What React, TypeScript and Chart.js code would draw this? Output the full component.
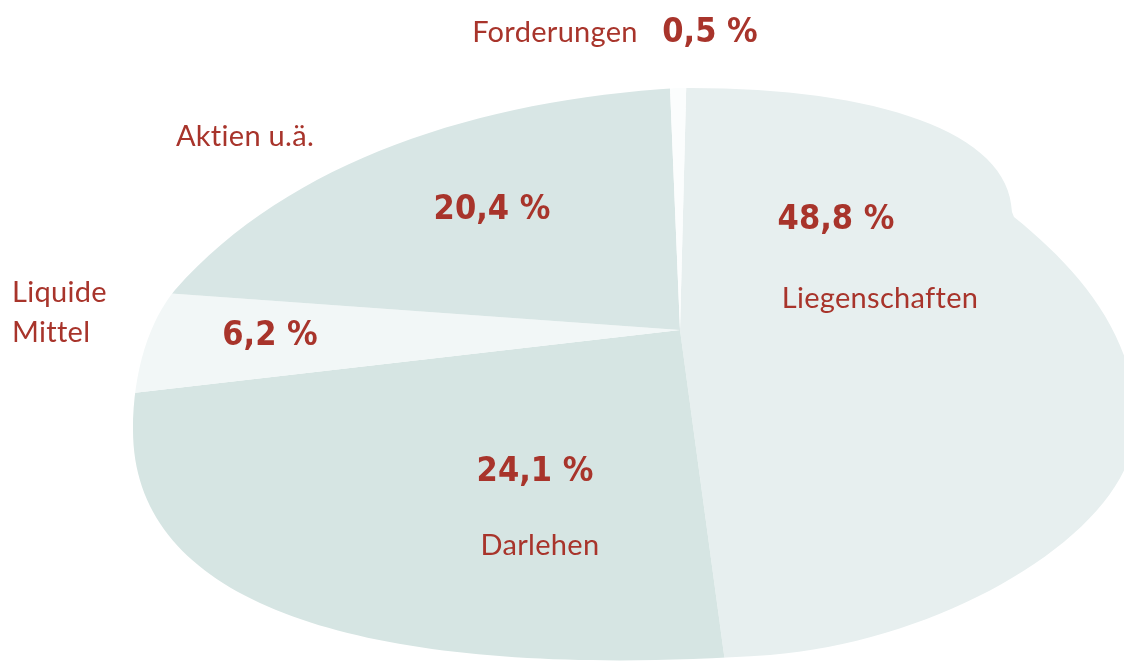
import React, { useEffect, useRef } from "react";
import { Chart, registerables } from "chart.js";

Chart.register(...registerables);

// ---- data ----
const CATEGORIES = ["Liegenschaften", "Darlehen", "Liquide Mittel", "Aktien u.ä.", "Forderungen"];
const SHARES = [48.8, 24.1, 6.2, 20.4, 0.5];
const NAME_LINES = [["Liegenschaften"], ["Darlehen"], ["Liquide", "Mittel"], ["Aktien u.ä."], ["Forderungen"]];

// ---- styling / layout ----
const SLICE_COLORS = ["#e7efef", "#d6e5e3", "#f2f7f7", "#d8e6e5", "#fbfdfd"];
const TEXT_COLOR = "#a8342b";
const NAME_FONT = '29px Lato, "Open Sans", sans-serif';
const VALUE_FONT = 'bold 34px "DejaVu Sans Condensed", "DejaVu Sans", sans-serif';
const VALUE_POS = [
  [836, 220],
  [535, 472],
  [270, 336],
  [492, 210],
  [710, 33],
];
const NAME_POS = [
  { x: 880, y: 299, align: "center" },
  { x: 540, y: 546, align: "center" },
  { x: 12, y: 293, align: "left" },
  { x: 245, y: 137, align: "center" },
  { x: 555, y: 33, align: "center" },
];
const VERTEX = { x: 680, y: 330 };
const SX = 1500;
const SY = 705;
const SHEAR_Y = -0.065;
const SHEAR_X = 0.03;
const ROTATION = 1.5;

function outline(ctx: CanvasRenderingContext2D) {
  ctx.beginPath();
  ctx.moveTo(678, 88);
  ctx.bezierCurveTo(870, 86, 1010, 130, 1012, 212);
  ctx.lineTo(1014, 217);
  ctx.bezierCurveTo(1080, 270, 1140, 340, 1135, 430);
  ctx.bezierCurveTo(1130, 530, 950, 640, 770, 655);
  ctx.bezierCurveTo(400, 680, 133, 620, 133, 430);
  ctx.bezierCurveTo(133, 370, 150, 320, 175, 290);
  ctx.bezierCurveTo(290, 160, 480, 100, 678, 88);
  ctx.closePath();
}

const warpPlugin = {
  id: "warp",
  beforeDatasetsDraw(chart: any) {
    const ctx: CanvasRenderingContext2D = chart.ctx;
    const arc: any = chart.getDatasetMeta(0).data[0];
    const cx = arc.x, cy = arc.y, R = arc.outerRadius;
    ctx.save();
    outline(ctx);
    ctx.clip();
    ctx.translate(VERTEX.x, VERTEX.y);
    ctx.transform(1, 0, SHEAR_X, 1, 0, 0);
    ctx.transform(1, SHEAR_Y, 0, 1, 0, 0);
    ctx.scale(SX / R, SY / R);
    ctx.translate(-cx, -cy);
  },
  afterDatasetsDraw(chart: any) {
    chart.ctx.restore();
  },
};

const labelPlugin = {
  id: "labels",
  afterDraw(chart: any) {
    const ctx: any = chart.ctx;
    ctx.save();
    ctx.fillStyle = TEXT_COLOR;
    ctx.textBaseline = "middle";
    SHARES.forEach((v, i) => {
      ctx.font = VALUE_FONT;
      ctx.letterSpacing = "0px";
      ctx.textAlign = "center";
      const txt = v.toFixed(1).replace(".", ",") + " %";
      ctx.fillText(txt, VALUE_POS[i][0], VALUE_POS[i][1]);
      ctx.font = NAME_FONT;
      ctx.letterSpacing = "0.3px";
      const p = NAME_POS[i];
      ctx.textAlign = p.align;
      NAME_LINES[i].forEach((line, j) => {
        ctx.fillText(line, p.x, p.y + j * 40);
      });
    });
    ctx.restore();
  },
};

export default function App() {
  const ref = useRef<HTMLCanvasElement | null>(null);
  useEffect(() => {
    if (!ref.current) return;
    const chart = new Chart(ref.current, {
      type: "pie",
      data: {
        labels: CATEGORIES,
        datasets: [
          {
            data: SHARES,
            backgroundColor: SLICE_COLORS,
            borderWidth: 0,
          },
        ],
      },
      options: {
        animation: false,
        responsive: true,
        maintainAspectRatio: false,
        rotation: ROTATION,
        events: [],
        layout: { padding: 0 },
        plugins: {
          legend: { display: false },
          tooltip: { enabled: false },
        },
      },
      plugins: [warpPlugin, labelPlugin],
    });
    return () => chart.destroy();
  }, []);
  return (
    <div style={{ position: "fixed", left: 0, top: 0, width: 1124, height: 661, background: "#ffffff" }}>
      <canvas ref={ref} />
    </div>
  );
}
